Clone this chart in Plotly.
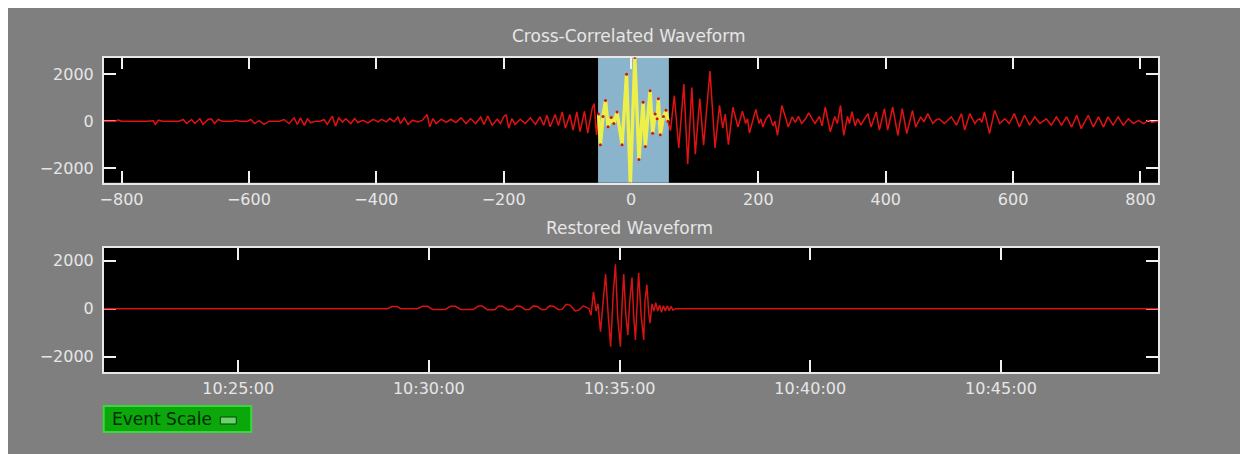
import pandas as pd
import plotly.graph_objects as go

# ---------------- data ----------------
# Cross-correlated waveform: lag (s) and amplitude at read extrema
cc_lag = [
    -828, -810, -805, -800, -760, -750, -747, -742, -736, -710,
    -703, -698, -690, -685, -677, -672, -664, -659, -654, -648,
    -642, -625, -620, -614, -602, -597, -591, -584, -576, -568,
    -552, -545, -537, -529, -524, -519, -513, -508, -503, -495,
    -488, -482, -477, -469, -464, -459, -453, -448, -440, -434,
    -429, -421, -413, -405, -397, -392, -384, -379, -372, -366,
    -362, -356, -350, -343, -335, -328, -320, -316, -311, -306,
    -298, -290, -283, -275, -267, -259, -252, -244, -236, -231,
    -225, -218, -210, -205, -200, -196, -192, -187, -182, -174,
    -166, -158, -150, -143, -137, -132, -127, -119, -114, -108,
    -103, -96, -91, -85, -80, -73, -68, -61, -58, -54,
    -51, -48, -44, -40, -36, -31, -27, -22, -14, -7,
    -1, 6, 12.5, 19, 22.5, 30, 34, 38, 41, 43,
    46, 51, 55, 58, 62, 68, 75, 83, 89, 95.5,
    101, 108, 114, 119, 124, 132, 139, 144, 148, 153,
    160, 168, 175, 180, 183, 186, 196, 201, 204, 207,
    212, 217, 223, 226, 230, 237, 247, 253, 258, 263,
    268, 274, 279, 289, 296, 300, 305, 313, 320, 324,
    329, 334, 340, 343, 347, 352, 356, 361, 366, 372,
    377, 385, 390, 398, 403, 411, 419, 426, 433, 442,
    447, 455, 460, 466, 474, 479, 484, 492, 498, 503,
    511, 519, 524, 532, 540, 544, 548, 551, 555, 563,
    571, 579, 587, 594, 602, 610, 618, 626, 634, 642,
    652, 660, 668, 676, 684, 692, 700, 707, 718, 726,
    734, 742, 749, 757, 765, 773, 781, 789, 797, 805,
    812, 818, 828,
]
cc_amp = [
    0, 0, 50, 0, 0, 20, -140, 40, 0, 0,
    70, -100, 70, -100, 100, -140, 70, 100, -100, 70,
    0, 0, 40, 0, 0, 70, -100, 20, -140, 0,
    0, 70, -100, 140, -140, 140, -180, 100, -70, 0,
    0, 70, -140, 210, -210, 140, -40, 100, -100, 110,
    -55, 40, -70, 80, -30, 80, -30, 110, -20, 180,
    -100, 140, -140, 40, -30, 30, 280, -240, 110, -100,
    80, -55, 80, -55, 140, -100, 110, -100, 180, -140,
    220, -170, 80, -100, 180, 280, -300, 110, -140, 80,
    -100, 140, -140, 180, -170, 250, -240, 280, -190, 390,
    -300, 280, -375, 390, -440, 420, -510, 530, 750, -580,
    300, -1000, 200, 875, -235, 150, -100, 390, -1000, 1990,
    -2650, 2700, -1625, 800, -1070, 1290, -510, 300, 100, 950,
    -580, 200, 460, 0, -400, 1080, -1140, 1570, -1830, 1430,
    -1400, 960, -1020, 400, 2125, -1140, 670, -300, 300, -1000,
    590, -250, 420, -100, 100, -500, 500, -100, 100, -250,
    100, 280, -200, 0, -600, 670, -250, 180, -50, 200,
    -100, 100, 350, -100, 200, -200, 600, -450, 200, -100,
    670, -600, 200, -100, 400, -200, 100, -150, 50, 320,
    -250, 390, -380, 530, -380, 600, -600, 530, -530, 460,
    -250, 180, -30, 320, -100, 50, 100, -100, 50, 180,
    -170, 320, -380, 320, -100, 50, 100, -50, 390, -530,
    460, -100, 100, -100, 320, -250, 250, -170, 180, -100,
    100, -170, 180, -170, 180, -250, 250, -320, 250, -250,
    180, -250, 180, -170, 180, -170, 100, -100, 30, -100,
    30, -50, 0,
]
window_lo, window_hi = -51.7, 59.5  # highlighted correlation window (s)

# Restored waveform: offset (s) from event time and amplitude
event_time = "2024-01-01 10:35:00"
rs_offset = [
    -811.5, -365, -358, -350, -344, -318, -310, -302, -294, -274,
    -266, -258, -250, -230, -222, -216, -208, -196, -190, -184,
    -176, -168, -162, -156, -148, -142, -136, -130, -122, -116,
    -110, -104, -96, -90, -84, -78, -70, -64, -57, -52,
    -48, -45, -41, -37, -34, -30, -26, -22, -18, -14,
    -10, -6.5, -3, 1.3, 4, 6.5, 10, 13, 16, 19.6,
    22, 25, 28, 30, 34, 38, 40, 43, 46, 48,
    51, 54, 57, 60, 63, 66, 69, 72, 75, 78,
    81, 84, 88, 847.5,
]
rs_amp = [
    0, 0, 90, 90, 0, 0, 100, 100, -30, -30,
    100, 100, -30, -30, 110, 110, -40, -40, 110, 100,
    -40, -30, 110, 100, -40, -30, 110, 100, -40, -30,
    120, 100, -40, -20, 180, 150, -90, -60, 120, 60,
    0, -280, 700, -100, 200, -960, 300, 1440, -200, -1580,
    600, 1850, -300, -1580, 200, 1440, -300, -1100, 300, 1300,
    -200, -1300, 400, 1500, -300, -1300, 300, 1000, -200, -600,
    200, -100, 250, -100, 150, -150, 120, -100, 120, -80,
    100, -60, 0, 0,
]
assert len(cc_lag) == len(cc_amp)
assert len(rs_offset) == len(rs_amp)

cc_ticks = [-800, -600, -400, -200, 0, 200, 400, 600, 800]
amp_ticks = [-2000, 0, 2000]

# ---------------- layout helpers (reference pixel -> paper) ----------------
# the page body adds an 8px margin, so the figure starts at (8, 8)
OFF = 8
W, H = 1248 - OFF, 454 - OFF
def fx(px):
    return (px - OFF) / W
def fy(py):
    return 1 - (py - OFF) / H

GRAY = "#7f7f7f"
TXT = "#e6e6e6"
FONT = "DejaVu Sans"

win_lag = [l for l in cc_lag if window_lo <= l <= window_hi]
win_amp = [a for l, a in zip(cc_lag, cc_amp) if window_lo <= l <= window_hi]

t0 = pd.Timestamp(event_time)
rs_time = [t0 + pd.to_timedelta(s, unit="s") for s in rs_offset]

fig = go.Figure()
fig.add_trace(go.Scatter(x=cc_lag, y=cc_amp, mode="lines",
                         line=dict(color="#e21212", width=1.5),
                         xaxis="x", yaxis="y", hoverinfo="skip"))
fig.add_trace(go.Scatter(x=win_lag, y=win_amp, mode="lines+markers",
                         line=dict(color="#eef04a", width=3.4),
                         marker=dict(color="#c81a10", size=3),
                         xaxis="x", yaxis="y", hoverinfo="skip"))
fig.add_trace(go.Scatter(x=rs_time, y=rs_amp, mode="lines",
                         line=dict(color="#d41414", width=1.5),
                         xaxis="x2", yaxis="y2", hoverinfo="skip"))

axis_common = dict(
    showgrid=False, zeroline=False, showline=True, linecolor="#e8e8e8",
    linewidth=1.5, mirror="ticks", ticks="inside", tickcolor="#f0f0f0",
    tickwidth=1.5, tickfont=dict(family=FONT, size=16, color=TXT),
    layer="below traces",
)

fig.update_layout(
    width=W, height=H, margin=dict(l=0, r=0, t=0, b=0),
    paper_bgcolor=GRAY, plot_bgcolor="black", showlegend=False,
    xaxis=dict(axis_common, domain=[fx(100), fx(1158)], range=[-828, 828],
               tickvals=cc_ticks, ticklen=12, anchor="y",
               ticklabelstandoff=1),
    yaxis=dict(axis_common, domain=[fy(182.7), fy(57.5)], range=[-2610, 2700],
               tickvals=amp_ticks, ticklen=13, anchor="x",
               ticklabelstandoff=5),
    xaxis2=dict(axis_common, type="date", domain=[fx(100), fx(1158)],
                range=[t0 + pd.to_timedelta(-811.5, unit="s"),
                       t0 + pd.to_timedelta(847.5, unit="s")],
                tick0="2024-01-01 10:25:00", dtick=300000,
                tickformat="%H:%M:%S", ticklen=12, anchor="y2",
                ticklabelstandoff=1),
    yaxis2=dict(axis_common, domain=[fy(372), fy(248)], range=[-2640, 2530],
                tickvals=amp_ticks, ticklen=13, anchor="x2",
                ticklabelstandoff=5),
)

shapes = [
    # correlation window
    dict(type="rect", xref="x", yref="y domain", x0=window_lo, x1=window_hi,
         y0=0, y1=1, fillcolor="#8ab4cb", line=dict(width=0), layer="below"),
    # button
    dict(type="rect", xref="paper", yref="paper", x0=fx(100), x1=fx(248),
         y0=fy(432), y1=fy(406), fillcolor="#0aa80a",
         line=dict(color="#3ad83a", width=2)),
    dict(type="rect", xref="paper", yref="paper", x0=fx(217), x1=fx(233),
         y0=fy(424), y1=fy(417), fillcolor="#6ad46a",
         line=dict(color="#0c400c", width=1)),
]
fig.update_layout(shapes=shapes)

annotations = [
    dict(text="Cross-Correlated Waveform", x=fx(627), y=fy(36), xref="paper",
         yref="paper", showarrow=False, xanchor="center", yanchor="middle",
         font=dict(family=FONT, size=17, color=TXT)),
    dict(text="Restored Waveform", x=fx(627), y=fy(228), xref="paper",
         yref="paper", showarrow=False, xanchor="center", yanchor="middle",
         font=dict(family=FONT, size=17, color=TXT)),
    dict(text="Event Scale", x=fx(106), y=fy(419), xref="paper",
         yref="paper", showarrow=False, xanchor="left", yanchor="middle",
         font=dict(family=FONT, size=17, color="#062806")),
]
fig.update_layout(annotations=annotations)

fig.write_html("out.html")
